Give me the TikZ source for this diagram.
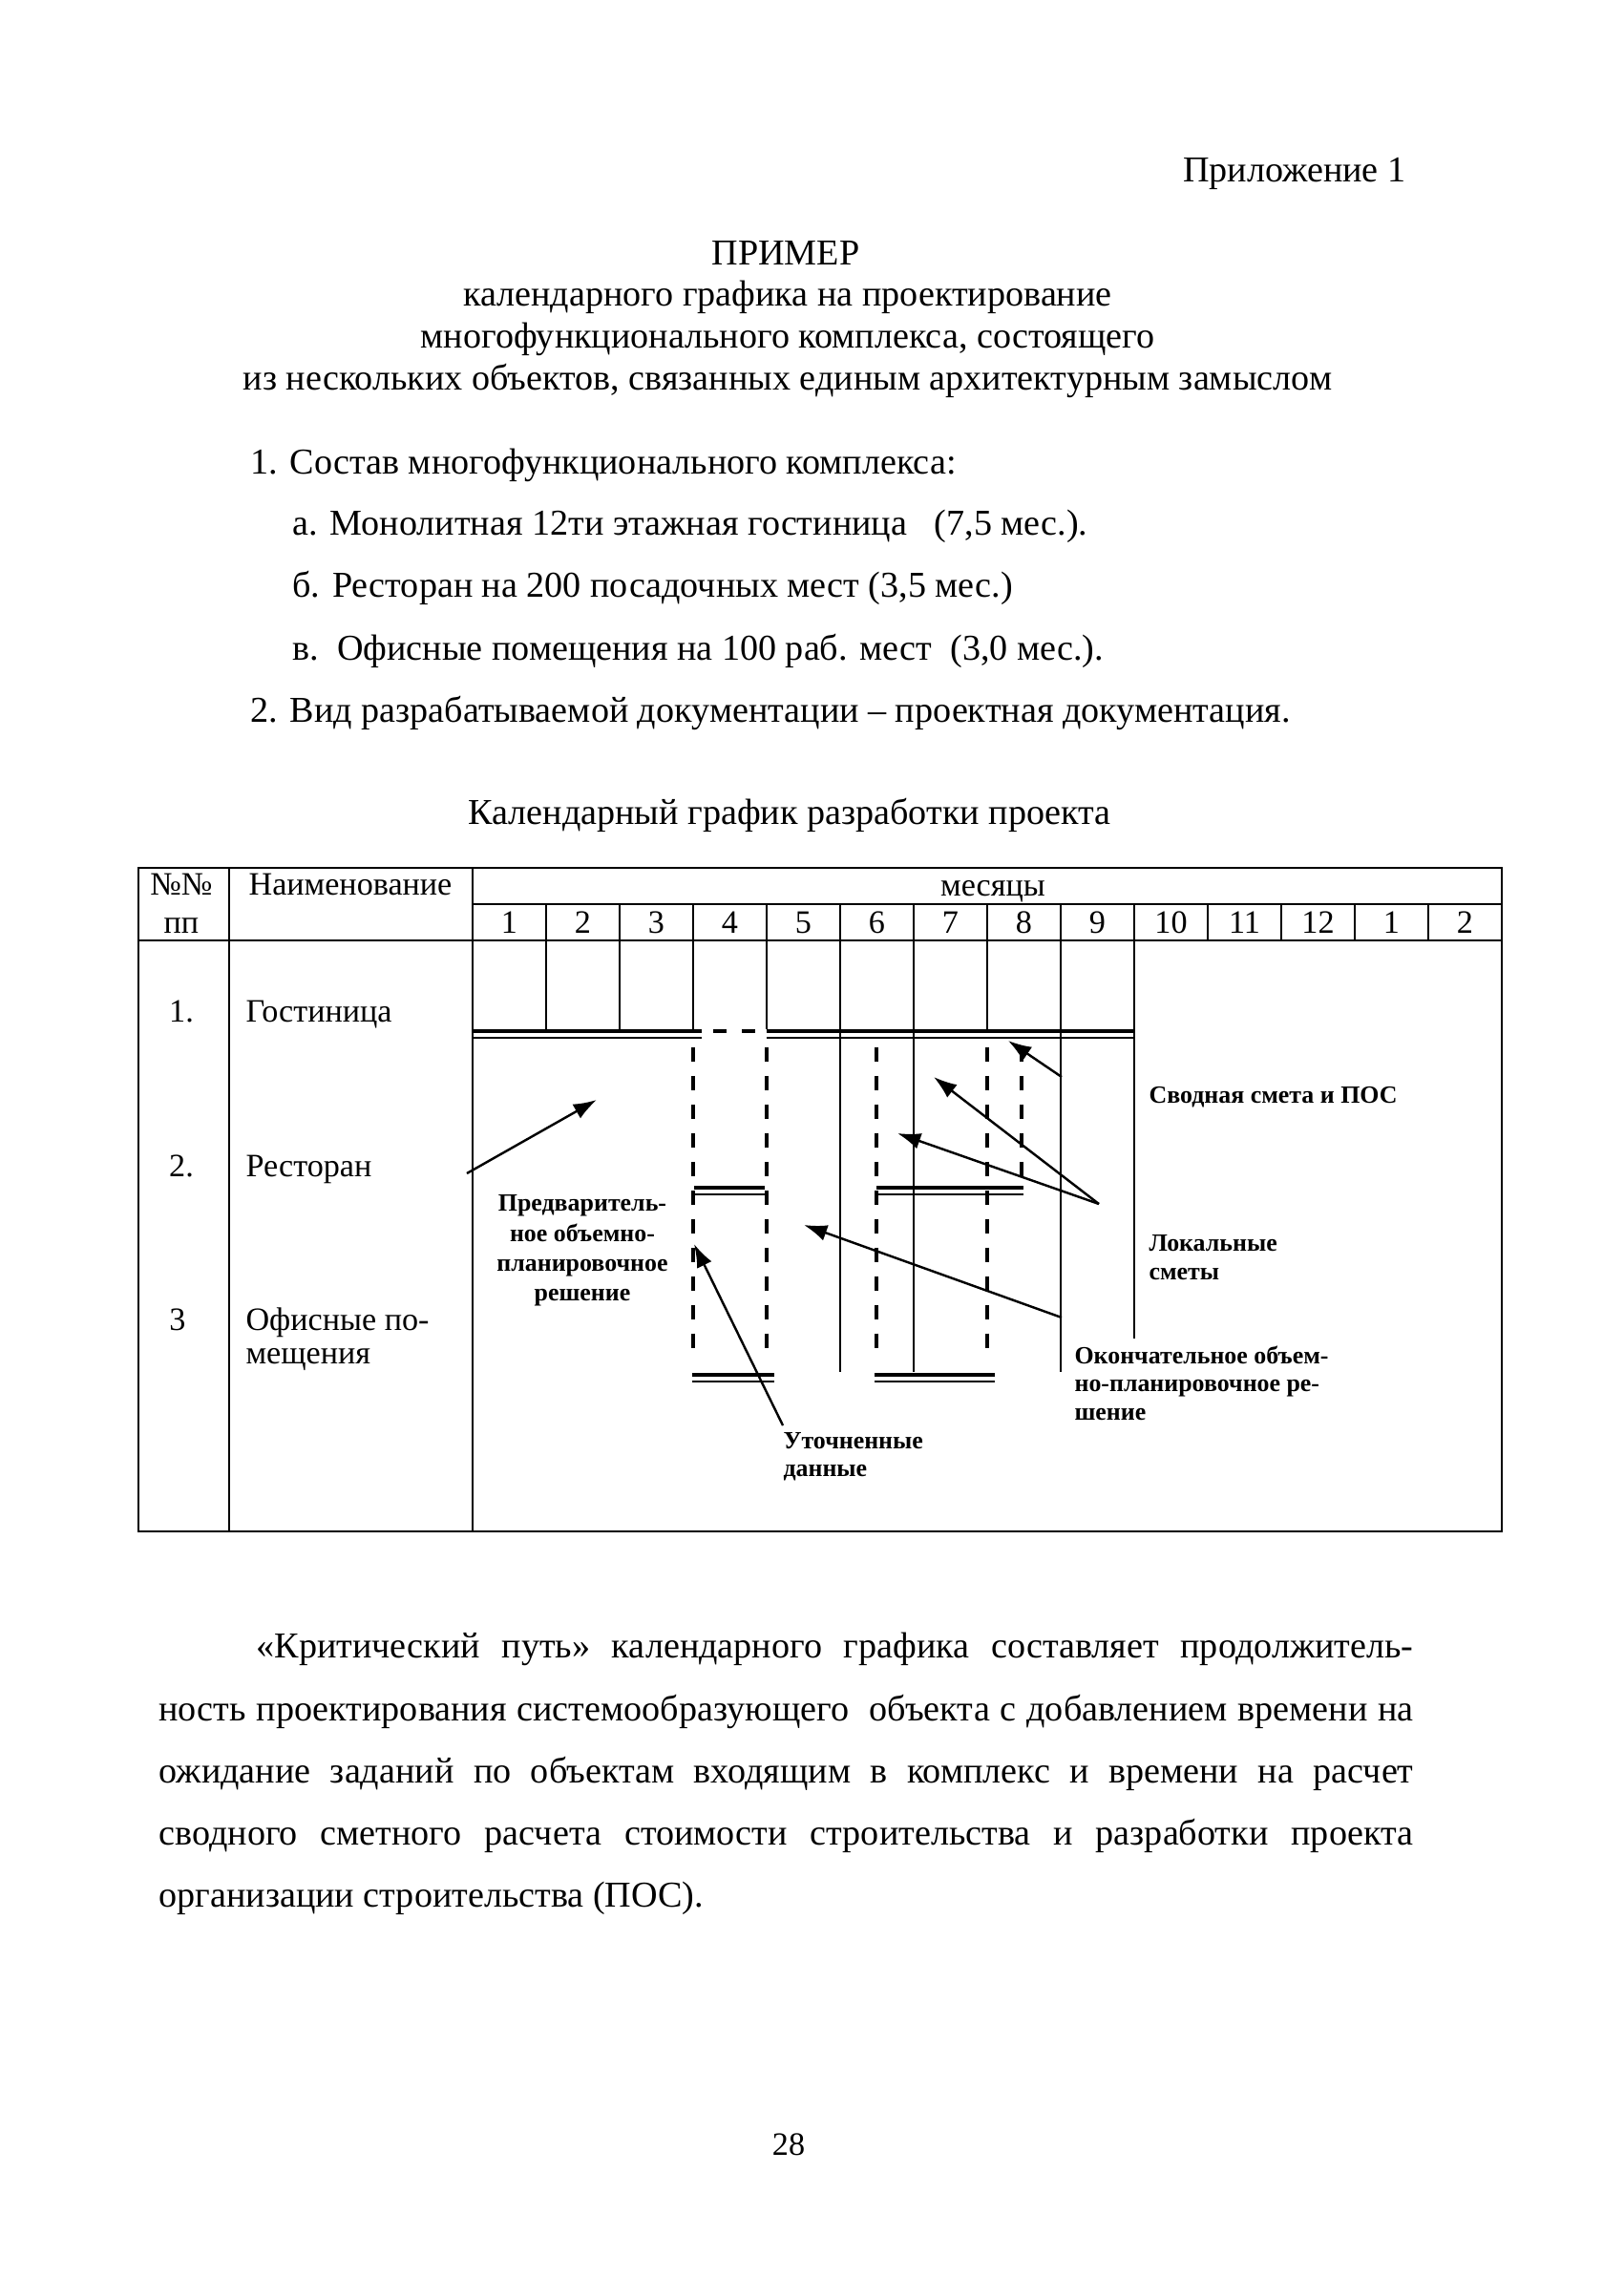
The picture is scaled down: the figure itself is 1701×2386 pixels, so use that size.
\documentclass[tikz,border=0pt]{standalone}
\usepackage{fontspec}
\setmainfont{Liberation Serif}
\usetikzlibrary{arrows.meta}
\newlength{\pxlen}
\setlength{\pxlen}{0.12346mm}
\begin{document}
\begin{tikzpicture}[x=0.12346mm,y=-0.12346mm,
  txt/.style={inner sep=0pt,font=\fontsize{13.4}{16}\selectfont},
  tab/.style={inner sep=0pt,font=\fontsize{12}{14}\selectfont},
  note/.style={inner sep=0pt,font=\fontsize{9.1}{11}\selectfont\bfseries},
  tabline/.style={line width=0.3mm},
  cellline/.style={line width=0.25mm},
  vdash/.style={line width=0.42mm,dash pattern=on 1.85mm off 1.85mm},
  hdash/.style={line width=0.5mm,dash pattern=on 1.7mm off 2.0mm},
  hthick/.style={line width=0.6mm},
  hthin/.style={line width=0.25mm},
  arr/.style={line width=0.3mm,-{Latex[length=3mm,width=2.1mm]}}
]
\fill[white] (0,0) rectangle (1701,2386);
\path[use as bounding box] (0,0) rectangle (1701,2386);

% ---------- heading text ----------
\node[txt,anchor=base east] (app) at (1473,190) {Приложение 1};
\node[txt,anchor=base] (t1) at (823,277) {ПРИМЕР};
\node[txt,anchor=base] (t2) at (825,320) {календарного графика на проектирование};
\node[txt,anchor=base] (t3) at (825,364) {многофункционального комплекса, состоящего};
\node[txt,anchor=base] (t4) at (825,408) {из нескольких объектов, связанных единым архитектурным замыслом};

\node[txt,anchor=base west] (l1) at (262,496) {1. Состав многофункционального комплекса:};
\node[txt,anchor=base west] (l2) at (306,560) {а. Монолитная 12ти этажная гостиница\ \ \ (7,5 мес.).};
\node[txt,anchor=base west] (l3) at (306,625) {б. Ресторан на 200 посадочных мест (3,5 мес.)};
\node[txt,anchor=base west] (l4) at (306,691) {в.\ \ Офисные помещения на 100 раб. мест\ \ (3,0 мес.).};
\node[txt,anchor=base west] (l5) at (262,756) {2. Вид разрабатываемой документации – проектная документация.};

\node[txt,anchor=base west] (cap) at (490,863) {Календарный график разработки проекта};

% ---------- table frame ----------
\draw[tabline] (145,909) rectangle (1573,1604);
\draw[tabline] (145,985) -- (1573,985);
\draw[tabline] (495,947) -- (1573,947);
\draw[tabline] (240,909) -- (240,1604);
\draw[tabline] (495,909) -- (495,1604);
\foreach \k in {1,...,13} {
  \draw[cellline] ({495+77*\k},947) -- ({495+77*\k},985);
}
% body cell lines
\foreach \xx in {572,649,726,803,1034} {
  \draw[cellline] (\xx,985) -- (\xx,1078);
}
\foreach \xx in {880,957,1111} {
  \draw[cellline] (\xx,985) -- (\xx,1437);
}
\draw[cellline] (1188,985) -- (1188,1402);

% ---------- bars ----------
\draw[hthick] (495,1080) -- (735,1080);
\draw[hthin] (495,1087) -- (735,1087);
\draw[hdash] (747,1080) -- (792,1080);
\draw[hthick] (803,1080) -- (1188,1080);
\draw[hthin] (803,1087) -- (1188,1087);

\draw[hthick] (727,1244) -- (801,1244);
\draw[hthin] (727,1251) -- (801,1251);
\draw[hthick] (918,1244) -- (1072,1244);
\draw[hthin] (918,1251) -- (1072,1251);

\draw[hthick] (725,1440) -- (811,1440);
\draw[hthin] (725,1447) -- (811,1447);
\draw[hthick] (916,1440) -- (1042,1440);
\draw[hthin] (916,1447) -- (1042,1447);

% ---------- dashed verticals ----------
\foreach \xx in {726,803,918,1034} {
  \draw[vdash] (\xx,1097) -- (\xx,1423);
}
\draw[vdash] (1070,1097) -- (1070,1240);

% ---------- table text ----------
\node[tab,anchor=base] (hnum) at (190,937) {№№};
\node[tab,anchor=base] (hpp) at (190,977) {пп};
\node[tab,anchor=base] (hname) at (367,937) {Наименование};
\node[tab,anchor=base] (hmon) at (1040,938) {месяцы};
\foreach \k/\lab in {1/1,2/2,3/3,4/4,5/5,6/6,7/7,8/8,9/9,10/10,11/11,12/12,13/1,14/2} {
  \node[tab,anchor=base] (m\k) at ({495+77*(\k-1)+38.5},977) {\lab};
}
\node[tab,anchor=base] (n1) at (190,1070) {1.};
\node[tab,anchor=base west] (r1) at (257,1070) {Гостиница};
\node[tab,anchor=base] (n2) at (190,1232) {2.};
\node[tab,anchor=base west] (r2) at (257,1232) {Ресторан};
\node[tab,anchor=base] (n3) at (186,1393) {3};
\node[tab,anchor=base west] (r3) at (257,1393) {Офисные по-};
\node[tab,anchor=base west] (r3b) at (257,1428) {мещения};

% ---------- annotations ----------
\node[note,anchor=base west] (sv) at (1203,1155) {Сводная смета и ПОС};
\node[note,anchor=base west] (lk1) at (1203,1310) {Локальные};
\node[note,anchor=base west] (lk2) at (1203,1340) {сметы};
\node[note,anchor=base] (pr1) at (610,1268) {Предваритель-};
\node[note,anchor=base] (pr2) at (610,1300) {ное объемно-};
\node[note,anchor=base] (pr3) at (610,1331) {планировочное};
\node[note,anchor=base] (pr4) at (610,1362) {решение};
\node[note,anchor=base west] (ok1) at (1125,1428) {Окончательное объем-};
\node[note,anchor=base west] (ok2) at (1125,1457) {но-планировочное ре-};
\node[note,anchor=base west] (ok3) at (1125,1487) {шение};
\node[note,anchor=base west] (ut1) at (820,1517) {Уточненные};
\node[note,anchor=base west] (ut2) at (820,1546) {данные};

% ---------- arrows ----------
\coordinate (a1s) at (489,1229);  \coordinate (a1e) at (625,1152);
\coordinate (a2s) at (820,1493);  \coordinate (a2e) at (727,1303);
\coordinate (a3s) at (1112,1380); \coordinate (a3e) at (842,1283);
\coordinate (a4s) at (1151,1261); \coordinate (a4e) at (978,1128);
\coordinate (a5e) at (940,1187);
\coordinate (a6s) at (1112,1128); \coordinate (a6e) at (1056,1090);
\draw[arr] (a1s) -- (a1e);
\draw[arr] (a2s) -- (a2e);
\draw[arr] (a3s) -- (a3e);
\draw[arr] (a4s) -- (a4e);
\draw[arr] (a4s) -- (a5e);
\draw[arr] (a6s) -- (a6e);

% ---------- paragraph ----------
\node[txt,anchor=base west] (p1) at (268,1736) {\makebox[1212\pxlen][s]{«Критический путь» календарного графика составляет продолжитель-}};
\node[txt,anchor=base west] (p2) at (166,1802) {\makebox[1314\pxlen][s]{ность проектирования системообразующего\ \ объекта с добавлением времени на}};
\node[txt,anchor=base west] (p3) at (166,1867) {\makebox[1314\pxlen][s]{ожидание заданий по объектам входящим в комплекс и времени на расчет}};
\node[txt,anchor=base west] (p4) at (166,1932) {\makebox[1314\pxlen][s]{сводного сметного расчета стоимости строительства и разработки проекта}};
\node[txt,anchor=base west] (p5) at (166,1997) {организации строительства (ПОС).};

\node[tab,anchor=base] (pg) at (826,2257) {28};
\end{tikzpicture}
\end{document}
